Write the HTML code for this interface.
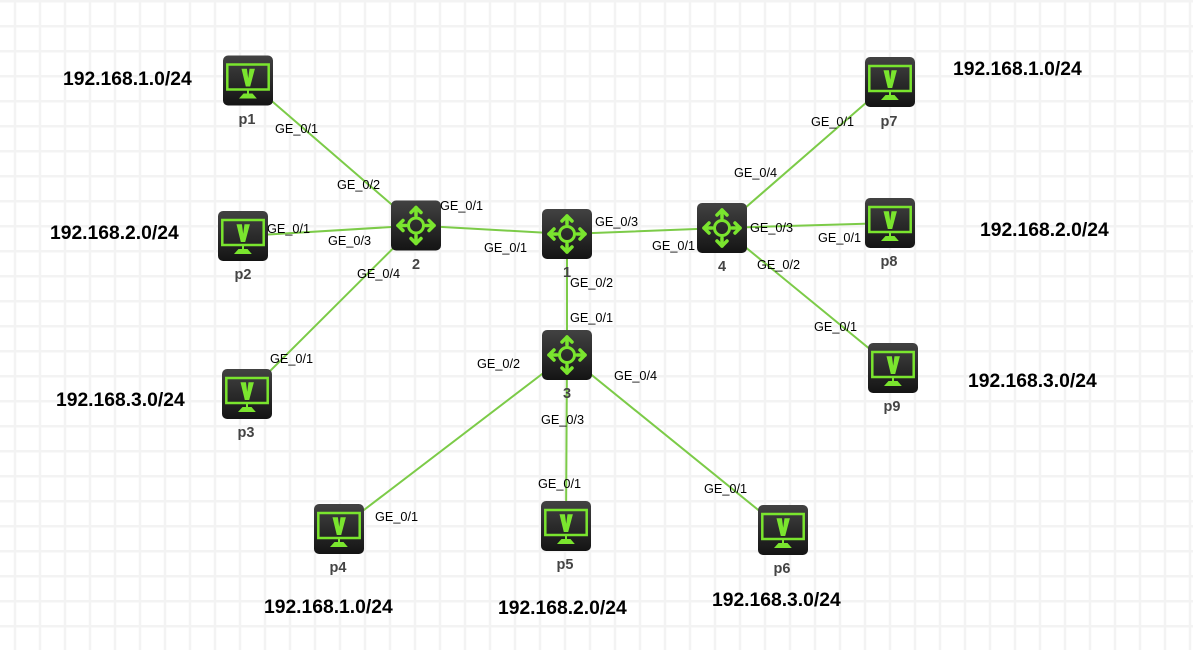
<!DOCTYPE html>
<html><head><meta charset="utf-8"><style>
html,body{margin:0;padding:0;background:#fff}
svg{display:block}
text{font-family:"Liberation Sans",sans-serif}
.p{font-size:12.7px;fill:#000}
.n{font-size:14.5px;font-weight:bold;fill:#444;text-anchor:middle}
.ip{font-size:19.3px;font-weight:bold;fill:#000}
</style></head><body>
<svg width="1193" height="650" viewBox="0 0 1193 650" xmlns="http://www.w3.org/2000/svg">
<defs>
<linearGradient id="b" x1="0" y1="0" x2="0" y2="1"><stop offset="0" stop-color="#424242"/><stop offset="1" stop-color="#141414"/></linearGradient>
<g id="pc">
<rect width="50" height="50" rx="5" fill="url(#b)"/>
<rect x="4.300" y="9" width="41.400" height="25" fill="none" stroke="#7ae52e" stroke-width="2.500"/>
<path d="M18.500 13.300h5.400l1.300 9.500 1.300-9.500h5.400l-4.700 17.700h-4.400z" fill="#7ae52e"/>
<rect x="24" y="35" width="2" height="3" fill="#7ae52e"/>
<path d="M20.500 38h9l4.300 5H16z" fill="#7ae52e"/>
</g>
<g id="r">
<rect width="50" height="50" rx="5" fill="url(#b)"/>
<g stroke="#7ae52e" stroke-width="3.500" fill="none" stroke-linecap="round" stroke-linejoin="round">
<circle cx="25" cy="25" r="7.500" stroke-width="3"/>
<path d="M25 15V7M25 35V43M15 25H7M35 25H43"/>
<path d="M20 12L25 7L30 12M20 38L25 43L30 38M12 20L7 25L12 30M38 20L43 25L38 30"/>
</g>
</g>
</defs>
<rect width="1193" height="650" fill="#fff"/>
<g fill="#f3f3f3">
<rect x="13.750" y="0" width="2.500" height="650"/><rect x="38.750" y="0" width="2.500" height="650"/><rect x="63.750" y="0" width="2.500" height="650"/><rect x="88.750" y="0" width="2.500" height="650"/><rect x="113.750" y="0" width="2.500" height="650"/><rect x="138.750" y="0" width="2.500" height="650"/><rect x="163.750" y="0" width="2.500" height="650"/><rect x="188.750" y="0" width="2.500" height="650"/><rect x="213.750" y="0" width="2.500" height="650"/><rect x="238.750" y="0" width="2.500" height="650"/><rect x="263.750" y="0" width="2.500" height="650"/><rect x="288.750" y="0" width="2.500" height="650"/><rect x="313.750" y="0" width="2.500" height="650"/><rect x="338.750" y="0" width="2.500" height="650"/><rect x="363.750" y="0" width="2.500" height="650"/><rect x="388.750" y="0" width="2.500" height="650"/><rect x="413.750" y="0" width="2.500" height="650"/><rect x="438.750" y="0" width="2.500" height="650"/><rect x="463.750" y="0" width="2.500" height="650"/><rect x="488.750" y="0" width="2.500" height="650"/><rect x="513.750" y="0" width="2.500" height="650"/><rect x="538.750" y="0" width="2.500" height="650"/><rect x="563.750" y="0" width="2.500" height="650"/><rect x="588.750" y="0" width="2.500" height="650"/><rect x="613.750" y="0" width="2.500" height="650"/><rect x="638.750" y="0" width="2.500" height="650"/><rect x="663.750" y="0" width="2.500" height="650"/><rect x="688.750" y="0" width="2.500" height="650"/><rect x="713.750" y="0" width="2.500" height="650"/><rect x="738.750" y="0" width="2.500" height="650"/><rect x="763.750" y="0" width="2.500" height="650"/><rect x="788.750" y="0" width="2.500" height="650"/><rect x="813.750" y="0" width="2.500" height="650"/><rect x="838.750" y="0" width="2.500" height="650"/><rect x="863.750" y="0" width="2.500" height="650"/><rect x="888.750" y="0" width="2.500" height="650"/><rect x="913.750" y="0" width="2.500" height="650"/><rect x="938.750" y="0" width="2.500" height="650"/><rect x="963.750" y="0" width="2.500" height="650"/><rect x="988.750" y="0" width="2.500" height="650"/><rect x="1013.750" y="0" width="2.500" height="650"/><rect x="1038.750" y="0" width="2.500" height="650"/><rect x="1063.750" y="0" width="2.500" height="650"/><rect x="1088.750" y="0" width="2.500" height="650"/><rect x="1113.750" y="0" width="2.500" height="650"/><rect x="1138.750" y="0" width="2.500" height="650"/><rect x="1163.750" y="0" width="2.500" height="650"/><rect x="1188.750" y="0" width="2.500" height="650"/>
<rect x="0" y="0" width="1193" height="2.500"/><rect x="0" y="25" width="1193" height="2.500"/><rect x="0" y="50" width="1193" height="2.500"/><rect x="0" y="75" width="1193" height="2.500"/><rect x="0" y="100" width="1193" height="2.500"/><rect x="0" y="125" width="1193" height="2.500"/><rect x="0" y="150" width="1193" height="2.500"/><rect x="0" y="175" width="1193" height="2.500"/><rect x="0" y="200" width="1193" height="2.500"/><rect x="0" y="225" width="1193" height="2.500"/><rect x="0" y="250" width="1193" height="2.500"/><rect x="0" y="275" width="1193" height="2.500"/><rect x="0" y="300" width="1193" height="2.500"/><rect x="0" y="325" width="1193" height="2.500"/><rect x="0" y="350" width="1193" height="2.500"/><rect x="0" y="375" width="1193" height="2.500"/><rect x="0" y="400" width="1193" height="2.500"/><rect x="0" y="425" width="1193" height="2.500"/><rect x="0" y="450" width="1193" height="2.500"/><rect x="0" y="475" width="1193" height="2.500"/><rect x="0" y="500" width="1193" height="2.500"/><rect x="0" y="525" width="1193" height="2.500"/><rect x="0" y="550" width="1193" height="2.500"/><rect x="0" y="575" width="1193" height="2.500"/><rect x="0" y="600" width="1193" height="2.500"/><rect x="0" y="625" width="1193" height="2.500"/>
</g>
<g stroke="#7ccb48" stroke-width="2" fill="none">
<path d="M248 80.500L416 225.500M243 236L416 225.500M247 394L416 225.500M416 225.500L567 234M567 234L722 228M567 234V355M567 355L566 526M567 355L339 529M567 355L783 530M722 228L890 82M722 228L890 223M722 228L893 368"/>
</g>
<use href="#pc" x="223" y="55.500"/><use href="#pc" x="218" y="211"/><use href="#pc" x="222" y="369"/>
<use href="#pc" x="314" y="504"/><use href="#pc" x="541" y="501"/><use href="#pc" x="758" y="505"/>
<use href="#pc" x="865" y="57"/><use href="#pc" x="865" y="198"/><use href="#pc" x="868" y="343"/>
<use href="#r" x="391" y="200.500"/><use href="#r" x="542" y="209"/><use href="#r" x="697" y="203"/><use href="#r" x="542" y="330"/>
<g>
<text class="n" x="247" y="124">p1</text><text class="n" x="243" y="279">p2</text><text class="n" x="246" y="437">p3</text>
<text class="n" x="338" y="572">p4</text><text class="n" x="565" y="569">p5</text><text class="n" x="782" y="573">p6</text>
<text class="n" x="889" y="126">p7</text><text class="n" x="889" y="266">p8</text><text class="n" x="892" y="411">p9</text>
<text class="n" x="416" y="269">2</text><text class="n" x="567" y="277">1</text><text class="n" x="722" y="271">4</text><text class="n" x="567" y="398">3</text>
</g>
<g>
<text class="p" x="275" y="133">GE_0/1</text><text class="p" x="337" y="189">GE_0/2</text><text class="p" x="440" y="210">GE_0/1</text>
<text class="p" x="267" y="233">GE_0/1</text><text class="p" x="328" y="245">GE_0/3</text><text class="p" x="357" y="278">GE_0/4</text>
<text class="p" x="484" y="252">GE_0/1</text><text class="p" x="595" y="226">GE_0/3</text><text class="p" x="652" y="250">GE_0/1</text>
<text class="p" x="570" y="287">GE_0/2</text><text class="p" x="570" y="322">GE_0/1</text><text class="p" x="477" y="368">GE_0/2</text>
<text class="p" x="614" y="380">GE_0/4</text><text class="p" x="541" y="424">GE_0/3</text><text class="p" x="270" y="363">GE_0/1</text>
<text class="p" x="375" y="521">GE_0/1</text><text class="p" x="538" y="488">GE_0/1</text><text class="p" x="704" y="493">GE_0/1</text>
<text class="p" x="811" y="126">GE_0/1</text><text class="p" x="734" y="177">GE_0/4</text><text class="p" x="750" y="232">GE_0/3</text>
<text class="p" x="818" y="242">GE_0/1</text><text class="p" x="757" y="269">GE_0/2</text><text class="p" x="814" y="331">GE_0/1</text>
</g>
<g>
<text class="ip" x="63" y="85">192.168.1.0/24</text><text class="ip" x="50" y="239">192.168.2.0/24</text><text class="ip" x="56" y="406">192.168.3.0/24</text>
<text class="ip" x="264" y="613">192.168.1.0/24</text><text class="ip" x="498" y="614">192.168.2.0/24</text><text class="ip" x="712" y="606">192.168.3.0/24</text>
<text class="ip" x="953" y="75">192.168.1.0/24</text><text class="ip" x="980" y="236">192.168.2.0/24</text><text class="ip" x="968" y="387">192.168.3.0/24</text>
</g>
</svg>
</body></html>
